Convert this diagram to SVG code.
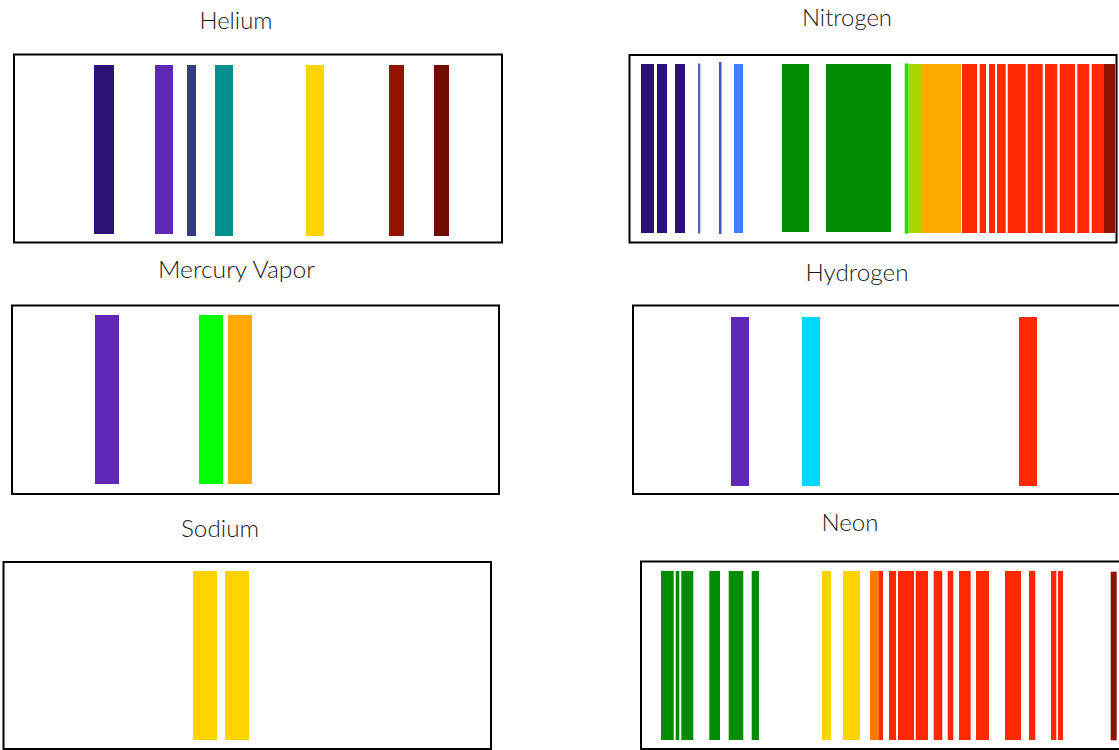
<svg xmlns="http://www.w3.org/2000/svg" width="1119" height="750" viewBox="0 0 1119 750">
<style>
.box{fill:#fff;stroke:#000;stroke-width:2}
.t{font-family:Lato,"Open Sans",sans-serif;font-size:23px;font-weight:300;fill:#1a1a1a;text-anchor:middle}
.v1{fill:#2c1176}.vi{fill:#5f27b5}.nb{fill:#353a85}.tl{fill:#009090}.ye{fill:#ffd400}
.dr{fill:#901400}.dr2{fill:#700d00}.gr{fill:#008c00}.lg{fill:#00ff00}.or{fill:#ffa800}
.cy{fill:#00d8ff}.rd{fill:#ff2800}.bl{fill:#3f81ff}.yg{fill:#a8d400}.or2{fill:#ff7800}
</style>
<rect width="1119" height="750" fill="#fff"/>

<g id="helium">
<text class="t" x="236" y="29" textLength="73" lengthAdjust="spacingAndGlyphs">Helium</text>
<rect class="box" x="14" y="54.5" width="488" height="188"/>
<rect class="v1" x="94" y="65" width="20" height="169"/>
<rect class="vi" x="155" y="65" width="18" height="169"/>
<rect class="nb" x="187" y="65" width="9" height="171"/>
<rect class="tl" x="215" y="65" width="18" height="171"/>
<rect class="ye" x="306" y="65" width="18" height="171"/>
<rect class="dr" x="389" y="65" width="15" height="171"/>
<rect class="dr2" x="434" y="65" width="15" height="171"/>
</g>

<g id="mercury">
<text class="t" x="236.5" y="278" textLength="157" lengthAdjust="spacingAndGlyphs">Mercury Vapor</text>
<rect class="box" x="12" y="305.5" width="487" height="188.5"/>
<rect class="vi" x="95" y="315" width="24" height="169"/>
<rect class="lg" x="199" y="315" width="24" height="169"/>
<rect class="or" x="228" y="315" width="24" height="169"/>
</g>

<g id="sodium">
<text class="t" x="220" y="537" textLength="78" lengthAdjust="spacingAndGlyphs">Sodium</text>
<rect class="box" x="3.5" y="562" width="487.5" height="187"/>
<rect class="ye" x="193" y="571" width="24" height="169"/>
<rect class="ye" x="225" y="571" width="24" height="169"/>
</g>

<g id="nitrogen">
<text class="t" x="847" y="26" textLength="90" lengthAdjust="spacingAndGlyphs">Nitrogen</text>
<rect class="box" x="629.5" y="55" width="487" height="187.5"/>
<rect class="v1" x="641" y="64" width="13" height="169"/>
<rect class="v1" x="657" y="64" width="10" height="169"/>
<rect class="v1" x="675" y="64" width="10" height="169"/>
<rect x="698" y="63.5" width="2.3" height="170" fill="#5560c0"/>
<rect x="719" y="62" width="2.5" height="172" fill="#4a4fb0"/>
<rect class="bl" x="734" y="64" width="9" height="169"/>
<rect class="gr" x="782" y="64" width="27" height="168"/>
<rect class="gr" x="826" y="64" width="65" height="168"/>
<rect x="904.7" y="63.5" width="4" height="170" fill="#22e000"/>
<rect class="yg" x="908.7" y="64" width="12.3" height="169"/>
<rect class="or" x="921" y="64" width="40" height="169"/>
<rect class="rd" x="962" y="64" width="15" height="169"/>
<rect class="rd" x="979.7" y="64" width="6.3" height="169"/>
<rect class="rd" x="989" y="64" width="6" height="169"/>
<rect class="rd" x="997" y="64" width="8.7" height="169"/>
<rect class="rd" x="1007.7" y="64" width="18" height="169"/>
<rect class="rd" x="1027.7" y="64" width="15" height="169"/>
<rect class="rd" x="1045" y="64" width="12.3" height="169"/>
<rect class="rd" x="1059.7" y="64" width="15.3" height="169"/>
<rect class="rd" x="1077.3" y="64" width="12" height="169"/>
<rect class="rd" x="1091.7" y="64" width="12.3" height="169"/>
<rect x="1104" y="64" width="11" height="169" fill="#8c1400"/>
</g>

<g id="hydrogen">
<text class="t" x="857" y="281" textLength="103" lengthAdjust="spacingAndGlyphs">Hydrogen</text>
<rect class="box" x="633" y="305.5" width="500" height="188.5"/>
<rect class="vi" x="731" y="317" width="18" height="169"/>
<rect class="cy" x="802" y="317" width="18" height="169"/>
<rect class="rd" x="1019" y="317" width="18" height="169"/>
</g>

<g id="neon">
<text class="t" x="850" y="531" textLength="57" lengthAdjust="spacingAndGlyphs">Neon</text>
<rect class="box" x="641" y="561.5" width="500" height="187.5"/>
<rect class="gr" x="661" y="571" width="12.7" height="169"/>
<rect class="gr" x="675.7" y="571" width="3.6" height="169"/>
<rect class="gr" x="681.3" y="571" width="12" height="169"/>
<rect class="gr" x="709.3" y="571" width="10.7" height="169"/>
<rect class="gr" x="728.7" y="571" width="14.6" height="169"/>
<rect class="gr" x="751.7" y="571" width="7.3" height="169"/>
<rect class="ye" x="822" y="571" width="9" height="169"/>
<rect class="ye" x="843" y="571" width="17" height="169"/>
<rect class="or2" x="870" y="571" width="9" height="169"/>
<rect class="rd" x="879" y="571" width="4" height="169"/>
<rect class="rd" x="889" y="571" width="7" height="169"/>
<rect class="rd" x="898" y="571" width="16" height="169"/>
<rect class="rd" x="915.7" y="571" width="12.3" height="169"/>
<rect class="rd" x="933.7" y="571" width="8.6" height="169"/>
<rect class="rd" x="947.7" y="571" width="5.6" height="169"/>
<rect class="rd" x="959" y="571" width="11.7" height="169"/>
<rect class="rd" x="976" y="571" width="13" height="169"/>
<rect class="rd" x="1005" y="571" width="16" height="169"/>
<rect class="rd" x="1029" y="571" width="6.3" height="169"/>
<rect class="rd" x="1051" y="571" width="5.3" height="169"/>
<rect class="rd" x="1058" y="571" width="5" height="169"/>
<rect class="dr" x="1110.7" y="571.7" width="6" height="168.6"/>
</g>
</svg>
